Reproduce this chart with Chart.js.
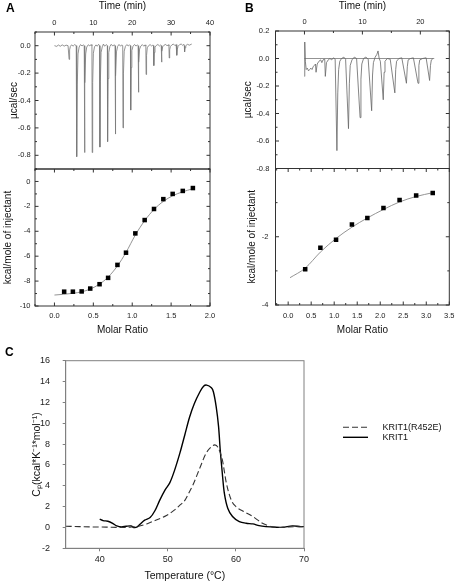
<!DOCTYPE html>
<html><head><meta charset="utf-8">
<script src="https://cdn.jsdelivr.net/npm/chart.js@4.4.1/dist/chart.umd.min.js"></script>
<style>
html,body{margin:0;padding:0;background:#fff;}
#wrap{position:relative;width:456px;height:582px;overflow:hidden;background:#fff;}
#wrap canvas{position:absolute;left:0;top:0;}
</style></head><body>
<div id="wrap">
<canvas id="cA1" width="456" height="582"></canvas>
<canvas id="cA2" width="456" height="582"></canvas>
<canvas id="cB1" width="456" height="582"></canvas>
<canvas id="cB2" width="456" height="582"></canvas>
<canvas id="cC" width="456" height="582"></canvas>
</div>
<script>
// ---------- Panel A: raw ITC trace ----------
const aTraceTime = [0.0,0.6,1.0,1.5,2.0,2.5,3.0,3.5,3.70,3.77,3.9,4.1,4.4,4.8,5.2,5.6,5.68,5.76,5.88,6.06,6.35,6.7,7.1,7.4,7.66,7.73,7.85,8.03,8.3,8.7,9.1,9.4,9.64,9.71,9.83,10.01,10.3,10.7,11.0,11.35,11.62,11.69,11.81,11.99,12.3,12.6,12.9,13.3,13.6,13.67,13.79,13.97,14.25,14.6,15.0,15.3,15.58,15.65,15.77,15.95,16.25,16.6,17.0,17.3,17.56,17.63,17.75,17.93,18.25,18.6,19.0,19.3,19.54,19.61,19.73,19.91,20.2,20.6,21.0,21.3,21.52,21.59,21.71,21.89,22.2,22.6,23.0,23.3,23.50,23.57,23.69,23.87,24.2,24.6,25.0,25.3,25.48,25.55,25.67,25.85,26.2,26.6,27.0,27.3,27.46,27.53,27.65,27.83,28.2,28.6,29.0,29.3,29.44,29.51,29.63,29.81,30.2,30.6,31.0,31.3,31.42,31.49,31.61,31.79,32.2,32.6,33.0,33.3,33.40,33.47,33.59,33.77,34.2,34.7,35.3];
const aTracePower = [0.0,-0.005,0.005,-0.004,0.006,-0.003,0.004,0.0,0.0,-0.10,-0.03,-0.005,0.006,-0.003,0.008,0.0,0.0,-0.81,-0.28,-0.06,-0.01,0.008,-0.002,0.006,0.0,-0.78,-0.27,-0.06,-0.01,0.007,-0.002,0.008,0.0,-0.78,-0.27,-0.055,-0.008,0.006,-0.004,0.01,0.0,-0.74,-0.26,-0.05,-0.008,0.012,-0.004,0.008,0.0,-0.70,-0.24,-0.05,-0.006,0.01,-0.003,0.007,0.0,-0.645,-0.22,-0.045,-0.005,0.009,-0.004,0.006,0.0,-0.60,-0.2,-0.04,-0.005,0.008,-0.002,0.007,0.0,-0.47,-0.16,-0.035,-0.004,0.009,-0.003,0.006,0.0,-0.34,-0.12,-0.025,-0.003,0.008,-0.004,0.006,0.0,-0.21,-0.07,-0.015,0.0,0.008,-0.003,0.006,0.0,-0.145,-0.05,-0.01,0.002,0.009,-0.002,0.006,0.0,-0.12,-0.04,-0.008,0.004,0.01,-0.002,0.007,0.0,-0.09,-0.03,-0.006,0.006,0.012,0.0,0.008,0.0,-0.07,-0.025,-0.004,0.008,0.012,0.002,0.01,0.0,-0.045,-0.015,0.0,0.01,0.004,0.012];
// Panel A: integrated heats
const aRatio = [0.125,0.237,0.35,0.46,0.58,0.69,0.81,0.92,1.04,1.16,1.28,1.40,1.52,1.65,1.78];
const aHeat  = [-8.85,-8.85,-8.83,-8.6,-8.25,-7.74,-6.7,-5.72,-4.17,-3.1,-2.21,-1.42,-1.0,-0.76,-0.53];
const aFitRatio = [0.0,0.12,0.24,0.35,0.46,0.58,0.69,0.81,0.92,1.04,1.16,1.28,1.40,1.52,1.64,1.78];
const aFitHeat  = [-9.12,-9.06,-8.98,-8.86,-8.64,-8.24,-7.68,-6.78,-5.7,-4.3,-3.15,-2.25,-1.6,-1.15,-0.85,-0.58];
const aTimeTicks = [0,10,20,30,40];
const aPowerTicks = [0,-0.2,-0.4,-0.6,-0.8];
const aHeatTicks = [0,-2,-4,-6,-8,-10];
const aRatioTicks = [0,0.5,1,1.5,2];

// ---------- Panel B ----------
const bTraceTime = [0.0,0.05,0.15,0.3,0.5,0.7,0.9,1.1,1.3,1.5,1.7,1.9,2.0,2.2,2.5,2.8,3.0,3.2,3.5,3.6,3.8,4.1,4.4,4.7,5.0,5.3,5.6,5.75,5.9,6.1,6.4,6.8,7.1,7.6,7.75,7.9,8.2,8.6,9.0,9.6,9.75,9.9,10.2,10.6,11.0,11.6,11.75,11.9,12.2,12.5,12.7,12.9,13.1,13.6,13.75,13.9,14.3,14.8,15.6,15.75,15.9,16.3,16.8,17.6,17.75,17.9,18.3,18.8,19.6,19.75,19.9,20.4,21.0,21.6,21.75,21.9,22.2];
const bTracePower = [-0.13,0.12,-0.02,-0.08,-0.07,-0.09,-0.08,-0.07,-0.08,-0.06,-0.05,-0.04,-0.10,-0.04,-0.02,-0.01,-0.03,-0.01,-0.005,-0.13,-0.03,-0.01,0.0,-0.01,0.005,-0.005,-0.67,-0.25,-0.08,-0.02,0.0,0.01,-0.005,-0.51,-0.18,-0.05,-0.01,0.01,0.0,-0.43,-0.15,-0.04,0.0,0.01,-0.005,-0.38,-0.12,-0.03,0.01,0.03,0.055,0.0,-0.02,-0.30,-0.1,-0.02,0.0,-0.005,-0.25,-0.08,-0.02,0.0,0.005,-0.18,-0.06,-0.01,0.0,0.005,-0.18,-0.05,-0.01,0.0,0.005,-0.16,-0.05,-0.01,0.0];
const bBaseTime = [0, 22.4];
const bBasePower = [0, 0];
const bRatio = [0.37,0.70,1.04,1.385,1.72,2.07,2.42,2.78,3.14];
const bHeat  = [-2.95,-2.32,-2.09,-1.64,-1.45,-1.16,-0.92,-0.79,-0.72];
const bFitRatio = [0.04,0.37,0.70,1.04,1.385,1.72,2.07,2.42,2.78,3.14];
const bFitHeat  = [-3.2,-2.92,-2.45,-2.05,-1.72,-1.45,-1.2,-0.98,-0.82,-0.71];
const bTimeTicks = [0,10,20];
const bPowerTicks = [0.2,0,-0.2,-0.4,-0.6,-0.8];
const bHeatTicks = [-2,-4];
const bRatioTicks = [0,0.5,1,1.5,2,2.5,3,3.5];

// ---------- Panel C: DSC ----------
const cSeriesNames = ['KRIT1(R452E)','KRIT1'];
const cMutTemp = [35.0,37.0,39.0,41.0,43.0,44.5,45.6,46.9,48.3,49.8,51.0,51.7,52.5,53.0,53.7,54.7,55.6,56.4,56.9,57.35,58.0,58.6,59.3,60.0,61.0,62.5,63.9,65.2,66.4,67.8,70.0];
const cMutCp   = [0.12,0.08,0.05,0.03,0.0,0.03,0.1,0.34,0.72,1.14,1.68,2.1,2.6,3.2,4.1,5.7,7.1,7.75,7.92,7.7,6.5,4.25,2.65,2.0,1.58,1.04,0.4,0.08,0.0,0.05,0.08];
const cWtTemp = [40.0,40.5,41.2,41.9,42.5,43.2,43.9,44.6,45.0,45.5,45.9,46.6,47.4,48.1,48.8,49.6,50.3,51.0,51.8,52.5,53.2,53.9,54.7,55.25,55.7,56.4,56.7,57.1,57.45,57.7,58.0,58.3,58.8,59.5,60.5,61.5,62.5,63.4,64.4,65.9,66.9,68.3,69.5,70.0];
const cWtCp   = [0.79,0.65,0.6,0.4,0.15,0.05,0.12,0.15,0.0,0.05,0.3,0.7,0.95,1.6,2.6,3.6,4.3,5.5,7.2,8.9,10.6,11.9,13.0,13.55,13.66,13.4,13.0,11.6,9.7,7.4,5.2,3.3,1.85,1.05,0.56,0.4,0.34,0.17,0.08,0.02,0.02,0.15,0.08,0.08];
const cTempTicks = [40,50,60,70];
const cCpTicks = [-2,0,2,4,6,8,10,12,14,16];

const panelLetters = ['A','B','C'];
const titles = {
  time: 'Time (min)', power: 'µcal/sec', heat: 'kcal/mole of injectant',
  ratio: 'Molar Ratio', temp: 'Temperature (°C)', cp: 'Cₚ(kcal*K⁻¹*mol⁻¹)'
};

// ---------- helpers ----------
const FONT = "'Liberation Sans', Arial, sans-serif";
Chart.defaults.font.family = FONT;
Chart.defaults.color = '#222';
const pts = (xs, ys) => xs.map((x, i) => ({x: x, y: ys[i]}));
const fmt1 = v => Number(v).toFixed(1);
const fmt0 = v => String(v);

function ax(o) {
  return {
    type: 'linear', position: o.pos, min: o.min, max: o.max,
    grid: o.grid || {display: false, drawTicks: false},
    border: o.border || {display: false},
    afterBuildTicks: s => { s.ticks = o.ticks.map(v => ({value: v})); },
    afterFit: s => {
      if (s.isHorizontal()) s.height = o.size; else s.width = o.size;
      s.paddingLeft = 0; s.paddingRight = 0; s.paddingTop = 0; s.paddingBottom = 0;
    },
    ticks: {padding: o.pad, font: {size: o.fs || 7.5}, color: '#222', autoSkip: false,
            maxRotation: 0, minRotation: 0, callback: o.fmt},
    title: {display: !!o.title, text: o.title, padding: 0, font: {size: o.tfs || 10}, color: '#111'}
  };
}

const frameTicks = {
  id: 'frameTicks',
  afterDraw(chart, args, opts) {
    const ctx = chart.ctx, a = chart.chartArea;
    ctx.save();
    ctx.strokeStyle = opts.color || '#333';
    ctx.lineWidth = 1;
    if (opts.box) ctx.strokeRect(a.left, a.top, a.right - a.left, a.bottom - a.top);
    (opts.marks || []).forEach(m => {
      const s = chart.scales[m.scale];
      const k0 = Math.ceil(s.min / m.minor - 1e-6), k1 = Math.floor(s.max / m.minor + 1e-6);
      for (let k = k0; k <= k1; k++) {
        const v = k * m.minor;
        const r = v / m.major;
        const len = Math.abs(r - Math.round(r)) < 1e-6 ? 3.5 : 2;
        const p = s.getPixelForValue(v);
        ctx.beginPath();
        m.sides.forEach(side => {
          if (side === 'top') { ctx.moveTo(p, a.top); ctx.lineTo(p, a.top + len); }
          if (side === 'bottom') { ctx.moveTo(p, a.bottom); ctx.lineTo(p, a.bottom - len); }
          if (side === 'left') { ctx.moveTo(a.left, p); ctx.lineTo(a.left + len, p); }
          if (side === 'right') { ctx.moveTo(a.right, p); ctx.lineTo(a.right - len, p); }
        });
        ctx.stroke();
      }
    });
    ctx.restore();
  }
};

const texts = {
  id: 'texts',
  afterDraw(chart, args, opts) {
    const ctx = chart.ctx;
    (opts.items || []).forEach(t => {
      ctx.save();
      ctx.font = t.font; ctx.fillStyle = t.color || '#000';
      ctx.textAlign = t.align || 'left'; ctx.textBaseline = 'alphabetic';
      ctx.fillText(t.text, t.x, t.y);
      ctx.restore();
    });
  }
};

const lineLegend = {
  id: 'lineLegend',
  afterDraw(chart, args, o) {
    if (!o.display) return;
    const ctx = chart.ctx;
    chart.data.datasets.forEach((ds, i) => {
      const y = o.y + i * o.gap;
      ctx.save();
      ctx.strokeStyle = ds.borderColor; ctx.lineWidth = ds.borderWidth;
      ctx.setLineDash(ds.borderDash || []);
      ctx.beginPath(); ctx.moveTo(o.x1, y); ctx.lineTo(o.x2, y); ctx.stroke();
      ctx.setLineDash([]);
      ctx.font = o.font; ctx.fillStyle = '#111'; ctx.textBaseline = 'middle'; ctx.textAlign = 'left';
      ctx.fillText(ds.label, o.tx, y);
      ctx.restore();
    });
  }
};

function baseOptions(padding, scales, plugins) {
  return {
    responsive: false, animation: false, devicePixelRatio: 1,
    layout: {padding: padding},
    scales: scales,
    plugins: Object.assign({legend: {display: false}, tooltip: {enabled: false}}, plugins),
    elements: {point: {radius: 0}}
  };
}
const letterFont = "bold 12px " + FONT;

// ---------- A top ----------
new Chart(document.getElementById('cA1'), {
  type: 'scatter',
  data: {datasets: [
    {label: 'A raw', data: pts(aTraceTime, aTracePower), showLine: true, borderColor: '#777', borderWidth: 0.8, pointRadius: 0, tension: 0}
  ]},
  options: baseOptions({left: 8, top: 0.7, right: 246, bottom: 413}, {
    x: ax({pos: 'top', min: -5, max: 40, ticks: aTimeTicks, size: 31.3, pad: 5, fmt: fmt0, title: titles.time}),
    y: ax({pos: 'left', min: -0.9, max: 0.1, ticks: aPowerTicks, size: 27, pad: 4.3, fmt: fmt1, title: titles.power})
  }, {
    frameTicks: {box: true, color: '#333', marks: [
      {scale: 'x', minor: 5, major: 10, sides: ['top']},
      {scale: 'y', minor: 0.1, major: 0.2, sides: ['left', 'right']}]},
    texts: {items: [{text: panelLetters[0], x: 6, y: 12, font: letterFont}]}
  }),
  plugins: [frameTicks, texts]
});

// ---------- A bottom ----------
new Chart(document.getElementById('cA2'), {
  type: 'scatter',
  data: {datasets: [
    {label: 'A data', data: pts(aRatio, aHeat), pointStyle: 'rect', pointRadius: 3.2, backgroundColor: '#000', borderWidth: 0, showLine: false},
    {label: 'A fit', data: pts(aFitRatio, aFitHeat), showLine: true, borderColor: '#888', borderWidth: 0.9, pointRadius: 0, cubicInterpolationMode: 'monotone'}
  ]},
  options: baseOptions({left: 2, top: 169, right: 246, bottom: 246}, {
    x: ax({pos: 'bottom', min: -0.25, max: 2, ticks: aRatioTicks, size: 30, pad: 5.5, fmt: fmt1, title: titles.ratio}),
    y: ax({pos: 'left', min: -10, max: 1, ticks: aHeatTicks, size: 33, pad: 4.5, fmt: fmt0, title: titles.heat})
  }, {
    frameTicks: {box: true, color: '#333', marks: [
      {scale: 'x', minor: 0.25, major: 0.5, sides: ['top', 'bottom']},
      {scale: 'y', minor: 1, major: 2, sides: ['left', 'right']}]}
  }),
  plugins: [frameTicks]
});

// ---------- B top ----------
new Chart(document.getElementById('cB1'), {
  type: 'scatter',
  data: {datasets: [
    {label: 'B raw', data: pts(bTraceTime, bTracePower), showLine: true, borderColor: '#666', borderWidth: 0.8, pointRadius: 0, tension: 0},
    {label: 'B baseline', data: pts(bBaseTime, bBasePower), showLine: true, borderColor: '#777', borderWidth: 0.8, pointRadius: 0}
  ]},
  options: baseOptions({left: 242, top: 0.7, right: 6.7, bottom: 413.5}, {
    x: ax({pos: 'top', min: -5, max: 25, ticks: bTimeTicks, size: 30.3, pad: 4.8, fmt: fmt0, title: titles.time}),
    y: ax({pos: 'left', min: -0.8, max: 0.2, ticks: bPowerTicks, size: 33.5, pad: 6.2, fmt: fmt1, title: titles.power})
  }, {
    frameTicks: {box: true, color: '#333', marks: [
      {scale: 'x', minor: 5, major: 10, sides: ['top']},
      {scale: 'y', minor: 0.1, major: 0.2, sides: ['left', 'right']}]},
    texts: {items: [{text: panelLetters[1], x: 245, y: 12, font: letterFont}]}
  }),
  plugins: [frameTicks, texts]
});

// ---------- B bottom ----------
new Chart(document.getElementById('cB2'), {
  type: 'scatter',
  data: {datasets: [
    {label: 'B data', data: pts(bRatio, bHeat), pointStyle: 'rect', pointRadius: 3.2, backgroundColor: '#000', borderWidth: 0, showLine: false},
    {label: 'B fit', data: pts(bFitRatio, bFitHeat), showLine: true, borderColor: '#888', borderWidth: 0.9, pointRadius: 0, cubicInterpolationMode: 'monotone'}
  ]},
  options: baseOptions({left: 246.5, top: 168.5, right: 6.7, bottom: 246}, {
    x: ax({pos: 'bottom', min: -0.275, max: 3.5, ticks: bRatioTicks, size: 31, pad: 6.5, fmt: fmt1, title: titles.ratio}),
    y: ax({pos: 'left', min: -4, max: 0, ticks: bHeatTicks, size: 29, pad: 7, fmt: fmt0, title: titles.heat})
  }, {
    frameTicks: {box: true, color: '#333', marks: [
      {scale: 'x', minor: 0.25, major: 0.5, sides: ['top', 'bottom']},
      {scale: 'y', minor: 1, major: 2, sides: ['left', 'right']}]}
  }),
  plugins: [frameTicks]
});

// ---------- C ----------
const cGrid = {display: true, drawOnChartArea: false, drawTicks: true, tickLength: 3, color: '#808080'};
const cBorder = {display: true, color: '#808080'};
new Chart(document.getElementById('cC'), {
  type: 'scatter',
  data: {datasets: [
    {label: cSeriesNames[0], data: pts(cMutTemp, cMutCp), showLine: true, borderColor: '#333', borderWidth: 1.1, borderDash: [6, 3], pointRadius: 0, cubicInterpolationMode: 'monotone'},
    {label: cSeriesNames[1], data: pts(cWtTemp, cWtCp), showLine: true, borderColor: '#000', borderWidth: 1.4, pointRadius: 0, tension: 0.3}
  ]},
  options: baseOptions({left: 30.7, top: 360.7, right: 152, bottom: 0}, {
    x: ax({pos: 'bottom', min: 35, max: 70, ticks: cTempTicks, size: 33.7, pad: 3.3, fs: 9, fmt: fmt0, title: titles.temp, tfs: 10.5, grid: cGrid, border: cBorder}),
    y: ax({pos: 'left', min: -2, max: 16, ticks: cCpTicks, size: 35, pad: 12.7, fs: 9, fmt: fmt0, title: titles.cp, tfs: 10.5, grid: cGrid, border: cBorder})
  }, {
    frameTicks: {box: true, color: '#808080', marks: []},
    texts: {items: [{text: panelLetters[2], x: 5, y: 355.5, font: letterFont}]},
    lineLegend: {display: true, x1: 343, x2: 368, tx: 382.5, y: 427.3, gap: 10, font: '9px ' + FONT}
  }),
  plugins: [frameTicks, texts, lineLegend]
});
</script>
</body></html>
